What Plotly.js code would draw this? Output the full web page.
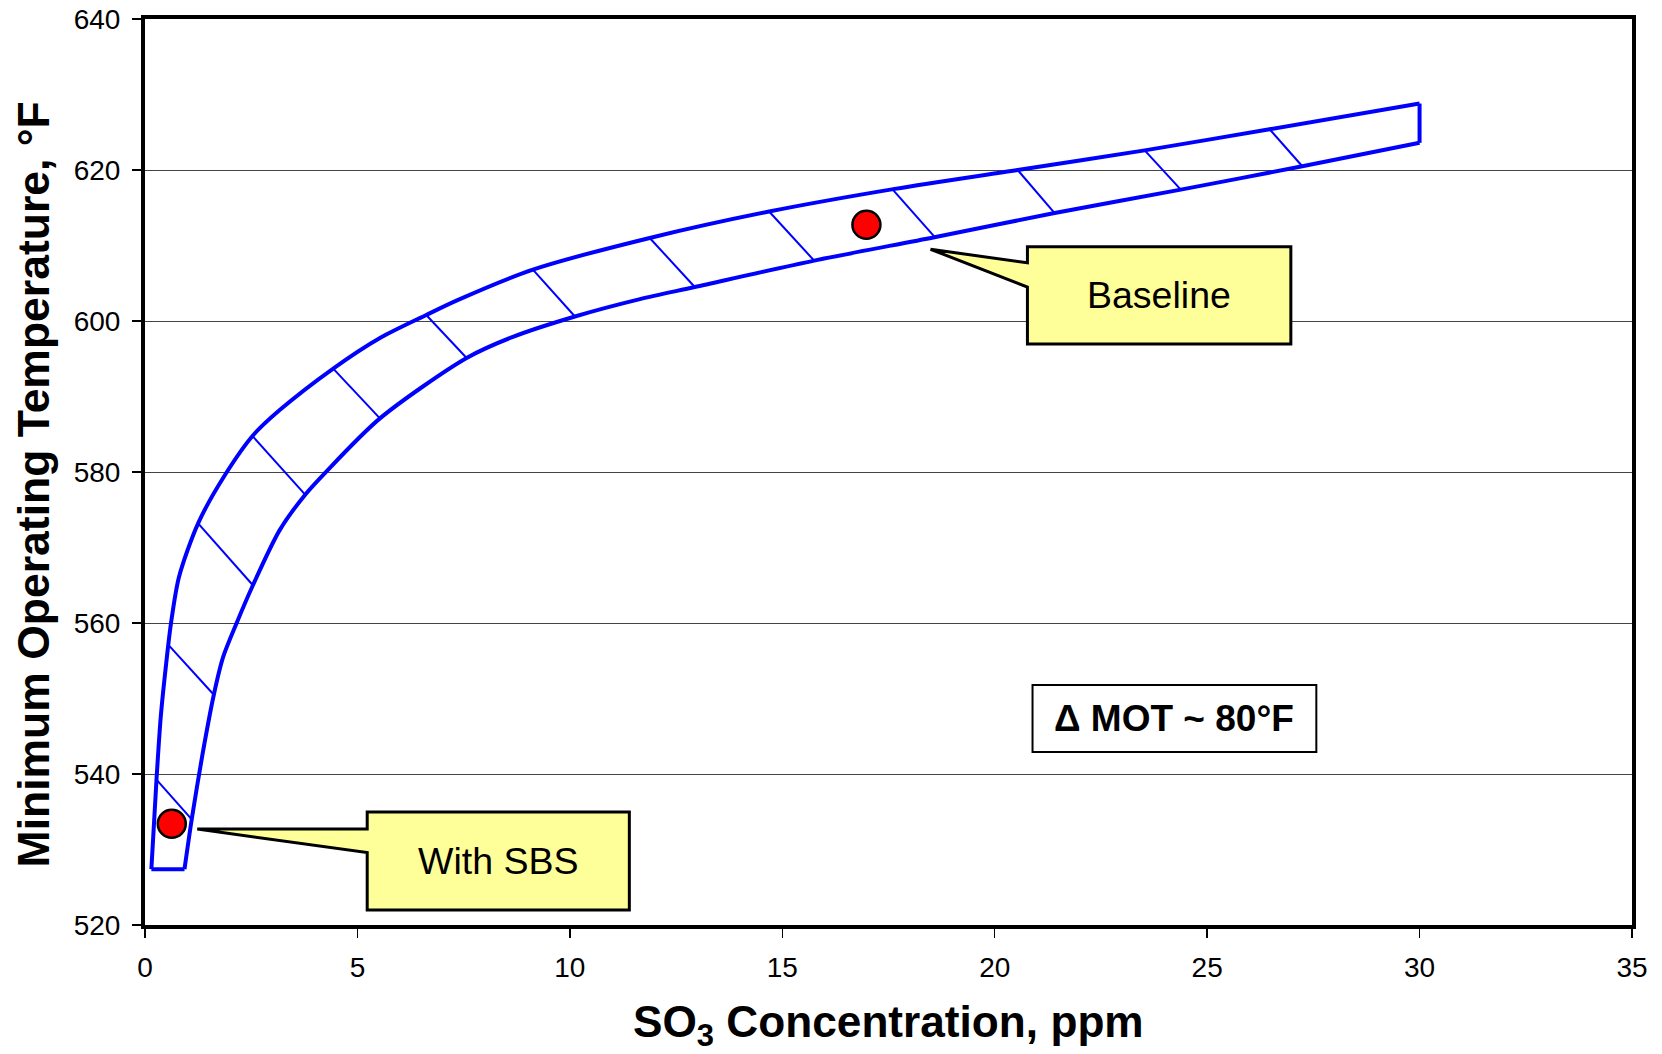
<!DOCTYPE html>
<html>
<head>
<meta charset="utf-8">
<script src="https://cdn.plot.ly/plotly-3.0.1.min.js"></script>
<style>
  html, body { margin: 0; padding: 0; background: #ffffff; }
  #chart { width: 1662px; height: 1054px; }
</style>
</head>
<body>
<div id="chart"></div>
<script>
// ---- Data ----
// Upper (left / outer) boundary of the MOT band
const upperX = [0.15, 0.27, 0.37, 0.49, 0.61, 0.80, 1.25, 1.86, 2.55, 3.17, 4.43, 5.53, 6.62, 7.37, 9.13, 11.88, 14.69, 17.65, 20.54, 23.53, 26.47, 30.0];
const upperY = [527.4, 539.2, 547.5, 554.2, 559.9, 566.1, 573.2, 579.4, 584.9, 588.2, 593.7, 597.75, 600.8, 602.8, 606.8, 611.0, 614.5, 617.5, 620.0, 622.6, 625.4, 628.8];
// Lower (right / inner) boundary of the MOT band
const lowerX = [0.93, 1.10, 1.35, 1.62, 1.84, 2.15, 2.54, 3.17, 3.77, 4.24, 5.53, 7.57, 8.66, 10.12, 11.65, 12.94, 15.75, 18.58, 21.41, 24.38, 27.24, 30.0];
const lowerY = [527.4, 534.0, 542.5, 550.5, 555.5, 559.9, 565.0, 572.3, 577.0, 579.9, 587.1, 595.1, 597.9, 600.6, 602.9, 604.5, 608.0, 611.1, 614.3, 617.4, 620.5, 623.6];
// End caps of the band
const bottomCapX = [0.15, 0.93];
const bottomCapY = [527.4, 527.4];
const rightCapX = [30.0, 30.0];
const rightCapY = [628.8, 623.6];
// Hatch segments across the band (start on upper edge, end on lower edge)
const hatchX1 = [0.28, 0.55, 1.25, 2.51, 4.43, 6.62, 9.13, 11.88, 14.69, 17.60, 20.54, 23.53, 26.47];
const hatchY1 = [539.2, 557.1, 573.2, 584.9, 593.7, 600.8, 606.8, 611.0, 614.5, 617.4, 620.0, 622.6, 625.4];
const hatchX2 = [1.10, 1.62, 2.54, 3.77, 5.53, 7.57, 10.12, 12.94, 15.75, 18.59, 21.41, 24.38, 27.24];
const hatchY2 = [534.0, 550.5, 565.0, 577.0, 587.1, 595.1, 600.6, 604.5, 608.0, 611.1, 614.3, 617.4, 620.5];
// Operating points
const pointNames = ["With SBS", "Baseline"];
const pointX = [0.63, 16.98];
const pointY = [533.4, 612.75];
const deltaText = "Δ MOT ~ 80°F";
const xTitle = "SO<sub>3</sub> Concentration, ppm";
const yTitle = "Minimum Operating Temperature, °F";

// ---- Build hatch trace ----
const hx = [], hy = [];
for (let i = 0; i < hatchX1.length; i++) {
  hx.push(hatchX1[i], hatchX2[i], null);
  hy.push(hatchY1[i], hatchY2[i], null);
}

const BLUE = '#0000FF';
const FONT = 'Liberation Sans, Arial, Helvetica, sans-serif';

const traces = [
  { x: upperX, y: upperY, mode: 'lines', line: { color: BLUE, width: 4, shape: 'spline', smoothing: 0.8 }, hoverinfo: 'skip' },
  { x: lowerX, y: lowerY, mode: 'lines', line: { color: BLUE, width: 4, shape: 'spline', smoothing: 0.8 }, hoverinfo: 'skip' },
  { x: bottomCapX, y: bottomCapY, mode: 'lines', line: { color: BLUE, width: 4 }, hoverinfo: 'skip' },
  { x: rightCapX, y: rightCapY, mode: 'lines', line: { color: BLUE, width: 4 }, hoverinfo: 'skip' },
  { x: hx, y: hy, mode: 'lines', line: { color: BLUE, width: 2 }, connectgaps: false, hoverinfo: 'skip' },
  { x: pointX, y: pointY, text: pointNames, mode: 'markers', marker: { size: 28, color: '#FF0000', line: { color: '#000000', width: 2.5 } }, hoverinfo: 'skip' }
];

// ---- Callout geometry (layout, data units) ----
function callout(x0, x1, yTop, yBot, tipX, tipY, baseA, baseB) {
  return 'M ' + x0 + ',' + yTop + ' L ' + x1 + ',' + yTop + ' L ' + x1 + ',' + yBot +
         ' L ' + x0 + ',' + yBot + ' L ' + x0 + ',' + baseB + ' L ' + tipX + ',' + tipY +
         ' L ' + x0 + ',' + baseA + ' Z';
}
const sbsBox = { x0: 5.23, x1: 11.40, yTop: 534.97, yBot: 521.99, tipX: 1.23, tipY: 532.7, a: 532.7, b: 529.6 };
const baseBox = { x0: 20.77, x1: 26.97, yTop: 609.84, yBot: 596.95, tipX: 18.49, tipY: 609.5, a: 607.7, b: 604.5 };
const deltaBox = { x0: 20.89, x1: 27.57, y0: 542.9, y1: 551.8 };

const shapes = [
  { type: 'path', xref: 'x', yref: 'y', path: callout(sbsBox.x0, sbsBox.x1, sbsBox.yTop, sbsBox.yBot, sbsBox.tipX, sbsBox.tipY, sbsBox.a, sbsBox.b),
    fillcolor: '#FFFF99', line: { color: '#000000', width: 3 }, layer: 'above' },
  { type: 'path', xref: 'x', yref: 'y', path: callout(baseBox.x0, baseBox.x1, baseBox.yTop, baseBox.yBot, baseBox.tipX, baseBox.tipY, baseBox.a, baseBox.b),
    fillcolor: '#FFFF99', line: { color: '#000000', width: 3 }, layer: 'above' },
  { type: 'rect', xref: 'x', yref: 'y', x0: deltaBox.x0, x1: deltaBox.x1, y0: deltaBox.y0, y1: deltaBox.y1,
    fillcolor: '#FFFFFF', line: { color: '#000000', width: 2 }, layer: 'above' }
];

const annotations = [
  { x: (sbsBox.x0 + sbsBox.x1) / 2, y: (sbsBox.yTop + sbsBox.yBot) / 2, xref: 'x', yref: 'y', text: pointNames[0],
    showarrow: false, font: { family: FONT, size: 37.5, color: '#000000' } },
  { x: (baseBox.x0 + baseBox.x1) / 2, y: (baseBox.yTop + baseBox.yBot) / 2, xref: 'x', yref: 'y', text: pointNames[1],
    showarrow: false, font: { family: FONT, size: 37.5, color: '#000000' } },
  { x: (deltaBox.x0 + deltaBox.x1) / 2, y: (deltaBox.y0 + deltaBox.y1) / 2, xref: 'x', yref: 'y', text: '<b>' + deltaText + '</b>',
    showarrow: false, font: { family: FONT, size: 37, color: '#000000' } },
  // x-axis title placed as a paper annotation so it can sit where the reference has it
  { x: 0.5, y: 0, xref: 'paper', yref: 'paper', xanchor: 'center', yanchor: 'middle', yshift: -100,
    text: '<b>' + xTitle + '</b>', showarrow: false, font: { family: FONT, size: 44.2, color: '#000000' } }
];

const layout = {
  width: 1662, height: 1054,
  margin: { l: 145, r: 30, t: 19, b: 129, pad: 0 },
  paper_bgcolor: '#FFFFFF', plot_bgcolor: '#FFFFFF',
  showlegend: false,
  font: { family: FONT, color: '#000000' },
  xaxis: {
    range: [0, 35], dtick: 5, tick0: 0,
    showgrid: false, zeroline: false,
    showline: true, linecolor: '#000000', linewidth: 4, mirror: true,
    ticks: 'outside', ticklen: 9, tickwidth: 1.5, tickcolor: '#000000',
    ticklabelstandoff: 5,
    tickfont: { family: FONT, size: 28, color: '#000000' }
  },
  yaxis: {
    range: [520, 640], dtick: 20, tick0: 520,
    showgrid: true, gridcolor: '#444444', gridwidth: 1,
    zeroline: false,
    showline: true, linecolor: '#000000', linewidth: 4, mirror: true,
    ticks: 'outside', ticklen: 9, tickwidth: 1.5, tickcolor: '#000000',
    ticklabelstandoff: 6,
    tickfont: { family: FONT, size: 28, color: '#000000' },
    title: { text: '<b>' + yTitle + '&nbsp;&nbsp;</b>', font: { family: FONT, size: 44.5, color: '#000000' }, standoff: 11 }
  },
  shapes: shapes,
  annotations: annotations
};

Plotly.newPlot('chart', traces, layout, { displayModeBar: false, staticPlot: true });
</script>
</body>
</html>
